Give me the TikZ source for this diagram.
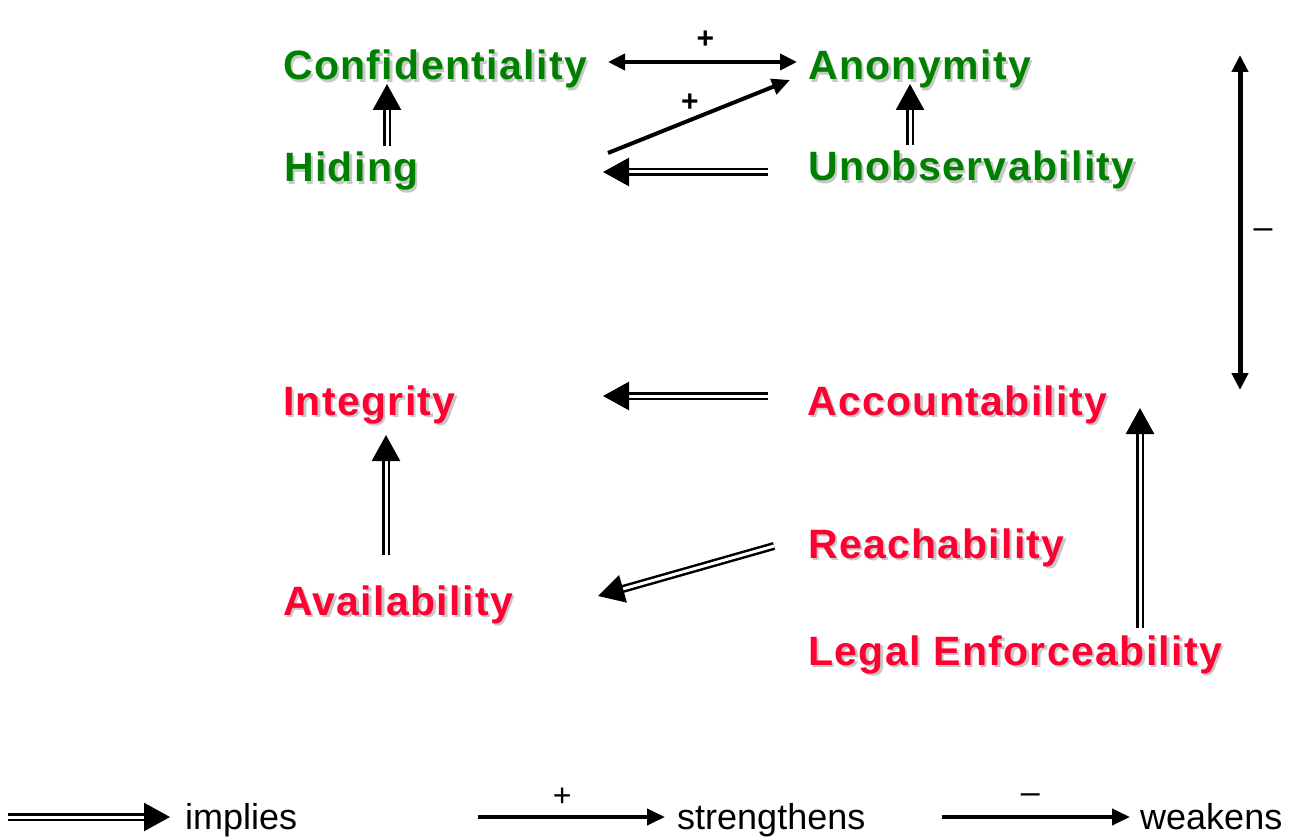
\documentclass[tikz,border=0pt]{standalone}
\usepackage{fontspec}
\setmainfont{Liberation Sans}
\usetikzlibrary{arrows.meta}
\definecolor{cgreen}{RGB}{0,128,0}
\definecolor{cred}{RGB}{255,0,51}
\definecolor{cshadow}{RGB}{200,200,200}
\newfontfamily\boldlbl[LetterSpace=3.3]{Liberation Sans Bold}
\newcommand{\shd}[2]{\rlap{\kern2.5pt\raisebox{-2.5pt}{\textcolor{cshadow}{#2}}}\textcolor{#1}{#2}}
\begin{document}
\begin{tikzpicture}[x=1pt,y=-1pt,
  lbl/.style={anchor=base west, inner sep=0pt, font=\boldlbl\fontsize{41}{44}\selectfont},
  leg/.style={anchor=base west, inner sep=0pt, font=\fontsize{36}{40}\selectfont},
  sign/.style={inner sep=0pt, font=\fontsize{32}{34}\selectfont},
  bsign/.style={inner sep=0pt, font=\bfseries\fontsize{30}{32}\selectfont},
  dsign/.style={inner sep=0pt, font=\fontsize{34}{36}\selectfont},
  impl/.style={draw=black, double=white, line width=2.5pt, double distance=3pt,
    -{Triangle[length=26pt,width=28pt]}},
  strg/.style={draw=black, line width=4pt, -{Triangle[length=18pt,width=16pt]}},
  bistrg/.style={draw=black, line width=4pt, {Triangle[length=17pt,width=16pt]}-{Triangle[length=17pt,width=16pt]}},
  biweak/.style={draw=black, line width=5pt, {Triangle[length=17pt,width=16pt]}-{Triangle[length=17pt,width=16pt]}}]
\useasboundingbox (0,0) rectangle (1302,837);

% nodes
\node[lbl] (conf)  at (283,80)  {\shd{cgreen}{Confidentiality}};
\node[lbl] (anon)  at (808,80)  {\shd{cgreen}{Anonymity}};
\node[lbl] (hid)   at (284,182) {\shd{cgreen}{Hiding}};
\node[lbl] (unob)  at (808,181) {\shd{cgreen}{Unobservability}};
\node[lbl] (integ) at (283,415) {\shd{cred}{Integrity}};
\node[lbl] (acc)   at (807,415) {\shd{cred}{Accountability}};
\node[lbl] (reach) at (808,558) {\shd{cred}{Reachability}};
\node[lbl] (avail) at (283,615) {\shd{cred}{Availability}};
\node[lbl] (legal) at (808,665) {\shd{cred}{Legal Enforceability}};

% connectors
\draw[bistrg] ([shift={(-200,-18)}]anon.base west) -- node[bsign, midway, xshift=3pt, yshift=22pt] (p1) {+} ([shift={(-11,-18)}]anon.base west);
\draw[strg] ([shift={(324,-29)}]hid.base west) -- node[bsign, pos=0.45, yshift=17pt] (p2) {+} ([shift={(-18,0)}]anon.base west);
\draw[impl] ([shift={(-40,-9)}]unob.base west) -- ([shift={(-205,-9)}]unob.base west);
\draw[impl] ([shift={(102,-36)}]unob.base west) -- ([shift={(102,4)}]anon.base west);
\draw[impl] ([shift={(103,-36)}]hid.base west) -- ([shift={(104,4)}]conf.base west);
\coordinate (negtop) at (1240,55);
\coordinate (negbot) at (1240,390);
\draw[biweak] (negtop) -- node[dsign, midway, xshift=23pt, yshift=-11.5pt] (m1) {–} (negbot);
\draw[impl] ([shift={(-39,-19)}]acc.base west) -- ([shift={(-204,-19)}]acc.base west);
\draw[impl] ([shift={(103,-60)}]avail.base west) -- ([shift={(103,20)}]integ.base west);
\draw[impl] ([shift={(332,-37)}]legal.base west) -- ([shift={(333,-7)}]acc.base west);
\draw[impl] ([shift={(-34,-12)}]reach.base west) -- ([shift={(315,-19)}]avail.base west);

% legend
\node[leg] (limp) at (185,829) {implies};
\node[leg] (lstr) at (677,829) {strengthens};
\node[leg] (lwk)  at (1140,829) {weakens};
\draw[impl] ([shift={(-177,-12)}]limp.base west) -- ([shift={(-15,-12)}]limp.base west);
\draw[strg] ([shift={(-199,-12)}]lstr.base west) -- node[sign, pos=0.45, yshift=20pt] (p3) {+} ([shift={(-12,-12)}]lstr.base west);
\draw[strg] ([shift={(-198,-12)}]lwk.base west) -- node[dsign, pos=0.47, yshift=18pt] (m2) {–} ([shift={(-10,-12)}]lwk.base west);
\end{tikzpicture}
\end{document}
